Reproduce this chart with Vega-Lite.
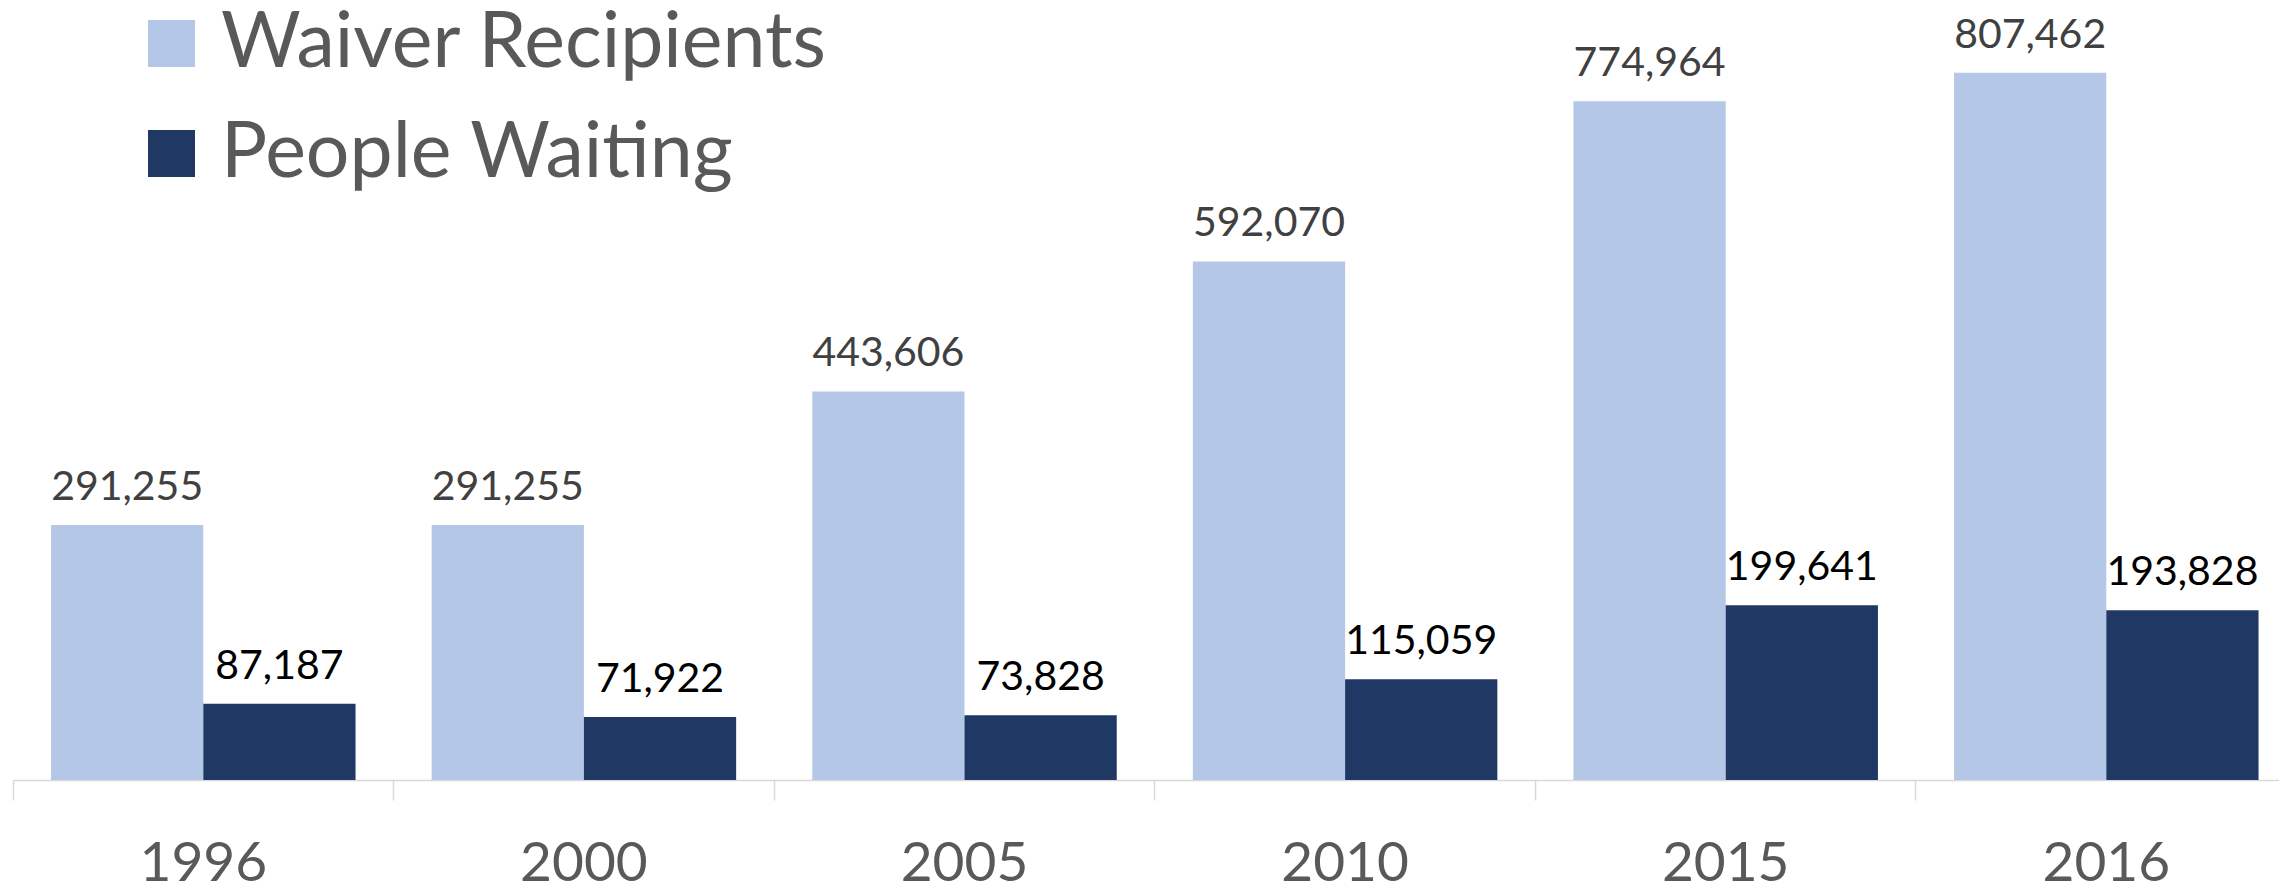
{
  "$schema": "https://vega.github.io/schema/vega-lite/v6.json",
  "width": 2266,
  "height": 780,
  "autosize": {"type": "none"},
  "padding": {"left": 13, "top": 0, "right": 0, "bottom": 106},
  "background": "white",
  "config": {"view": {"stroke": null}, "font": "Lato"},
  "data": {
    "values": [
      {"year": "1996", "series": "Waiver Recipients", "value": 291255},
      {"year": "1996", "series": "People Waiting", "value": 87187},
      {"year": "2000", "series": "Waiver Recipients", "value": 291255},
      {"year": "2000", "series": "People Waiting", "value": 71922},
      {"year": "2005", "series": "Waiver Recipients", "value": 443606},
      {"year": "2005", "series": "People Waiting", "value": 73828},
      {"year": "2010", "series": "Waiver Recipients", "value": 592070},
      {"year": "2010", "series": "People Waiting", "value": 115059},
      {"year": "2015", "series": "Waiver Recipients", "value": 774964},
      {"year": "2015", "series": "People Waiting", "value": 199641},
      {"year": "2016", "series": "Waiver Recipients", "value": 807462},
      {"year": "2016", "series": "People Waiting", "value": 193828}
    ]
  },
  "encoding": {
    "x": {
      "field": "year",
      "type": "nominal",
      "scale": {"range": [0, 2283.6], "paddingInner": 0, "paddingOuter": 0},
      "axis": {
        "title": null,
        "labelAngle": 0,
        "bandPosition": 0,
        "tickSize": 20,
        "tickColor": "#d9d9d9",
        "tickWidth": 1.5,
        "domainColor": "#d9d9d9",
        "domainWidth": 1.5,
        "labelFontSize": 55,
        "labelColor": "#595959",
        "labelFont": "Lato",
        "labelBaseline": "alphabetic",
        "labelPadding": 80
      }
    },
    "xOffset": {
      "field": "series",
      "type": "nominal",
      "sort": ["Waiver Recipients", "People Waiting"],
      "scale": {"paddingInner": 0, "paddingOuter": 0.25}
    },
    "y": {
      "field": "value",
      "type": "quantitative",
      "scale": {"domain": [0, 890500], "nice": false},
      "axis": null
    }
  },
  "layer": [
    {
      "mark": {"type": "bar"},
      "encoding": {
        "color": {
          "field": "series",
          "type": "nominal",
          "sort": ["Waiver Recipients", "People Waiting"],
          "scale": {"domain": ["Waiver Recipients", "People Waiting"], "range": ["#b4c7e7", "#203864"]},
          "legend": {
            "orient": "none",
            "legendX": 120,
            "legendY": 5,
            "title": null,
            "padding": 0,
            "symbolType": "square",
            "symbolSize": 2209,
            "symbolStrokeWidth": 0,
            "symbolOpacity": 1,
            "labelFontSize": 77,
            "labelFont": "Lato",
            "labelColor": "#595959",
            "labelOffset": 11,
            "rowPadding": 32,
            "labelLimit": 1000
          }
        }
      }
    },
    {
      "mark": {"type": "text", "baseline": "alphabetic", "dy": -25, "fontSize": 41, "font": "Lato"},
      "encoding": {
        "text": {"field": "value", "type": "quantitative", "format": ","},
        "color": {
          "condition": {"test": "datum.series === 'People Waiting'", "value": "#000000"},
          "value": "#404040"
        }
      }
    }
  ]
}
